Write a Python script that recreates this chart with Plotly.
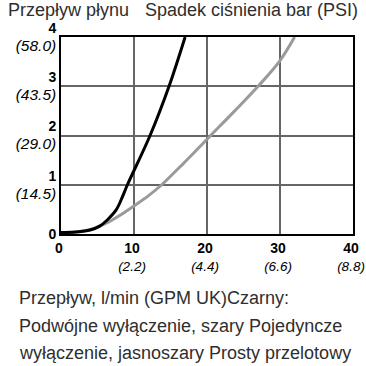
import plotly.graph_objects as go

# Data
black_x = [0, 2, 4, 5.3, 6.3, 7.6, 8.4, 9.1, 12.2, 14.8, 17]
black_y = [0.03, 0.04, 0.08, 0.16, 0.28, 0.5, 0.75, 1.0, 2.0, 3.0, 4.0]

gray_x = [0, 2, 4, 5.3, 6.5, 8.3, 10, 12, 13.8, 16.75, 18.6, 20.5, 23.8, 27, 29.9, 32]
gray_y = [0.03, 0.04, 0.09, 0.16, 0.24, 0.4, 0.57, 0.78, 1.0, 1.43, 1.71, 2.0, 2.5, 3.0, 3.5, 4.0]

x_tickvals = [0, 10, 20, 30, 40]
x_ticktext = ["<b>0</b>", "<b>10</b><br><i>(2.2)</i>", "<b>20</b><br><i>(4.4)</i>",
              "<b>30</b><br><i>(6.6)</i>", "<b>40</b><br><i>(8.8)</i>"]
y_tickvals = [0, 1, 2, 3, 4]
y_ticktext = ["<b>0</b>", "<b>1</b><br><i>(14.5)</i>", "<b>2</b><br><i>(29.0)</i>",
              "<b>3</b><br><i>(43.5)</i>", "<b>4</b><br><i>(58.0)</i>"]

title_left = "Przepływ płynu"
title_right = "Spadek ciśnienia bar (PSI)"
caption_lines = ["Przepływ, l/min (GPM UK)Czarny:",
                 "Podwójne wyłączenie, szary Pojedyncze",
                 "wyłączenie, jasnoszary Prosty przelotowy"]

W, H = 366, 366
L, R, T, B = 61, 13, 37, 132
pw, ph = W - L - R, H - T - B

def px2paper(px, py):
    return (px - L) / pw, (H - B - py) / ph

def styled(t, size):
    return t.replace("<i>", "<i><span style='font-size:%gpx'>" % size).replace("</i>", "</span></i>")

fig = go.Figure()
fig.add_trace(go.Scatter(x=gray_x, y=gray_y, mode="lines",
                         line=dict(color="#9a9a9a", width=3, shape="spline", smoothing=1.0),
                         showlegend=False))
fig.add_trace(go.Scatter(x=black_x, y=black_y, mode="lines",
                         line=dict(color="#000000", width=3, shape="spline", smoothing=1.0),
                         showlegend=False))

font_family = "Liberation Sans, Arial, sans-serif"
text_color = "#2e2e2e"

annotations = []
x0, y0 = px2paper(6, 10)
annotations.append(dict(text=title_left, x=x0, y=y0, xref="paper", yref="paper",
                        xanchor="left", yanchor="middle", showarrow=False,
                        font=dict(size=18, color=text_color, family=font_family)))
x0, y0 = px2paper(143, 10)
annotations.append(dict(text=title_right, x=x0, y=y0, xref="paper", yref="paper",
                        xanchor="left", yanchor="middle", showarrow=False,
                        font=dict(size=18, color=text_color, family=font_family)))
for i, line in enumerate(caption_lines):
    x0, y0 = px2paper(17, 298 + 27.5 * i)
    annotations.append(dict(text=line, x=x0, y=y0, xref="paper", yref="paper",
                            xanchor="left", yanchor="middle", showarrow=False,
                            font=dict(size=18, color=text_color, family=font_family)))

fig.update_layout(
    width=W, height=H,
    margin=dict(l=L, r=R, t=T, b=B, pad=0, autoexpand=False),
    paper_bgcolor="white", plot_bgcolor="white",
    font=dict(family=font_family, size=14, color="black"),
    annotations=annotations,
    xaxis=dict(range=[0, 40], tickvals=x_tickvals, ticktext=[styled(t, 13.5) for t in x_ticktext],
               showgrid=True, gridcolor="#666666", gridwidth=1.5,
               showline=True, linecolor="black", linewidth=2, mirror=True,
               zeroline=False, ticks="", tickangle=0, fixedrange=True,
               ticklabelshift=-2,
               ticklabeloverflow="allow", automargin=False),
    yaxis=dict(range=[0, 4], tickvals=y_tickvals, ticktext=[styled(t, 15.5) for t in y_ticktext],
               showgrid=True, gridcolor="#666666", gridwidth=1.5,
               showline=True, linecolor="black", linewidth=2, mirror=True,
               zeroline=False, ticks="", fixedrange=True,
               ticklabeloverflow="allow", automargin=False),
)

fig.write_html("out.html", config={"displayModeBar": False},
               post_script="document.body.style.margin='0';document.body.style.overflow='hidden';")
